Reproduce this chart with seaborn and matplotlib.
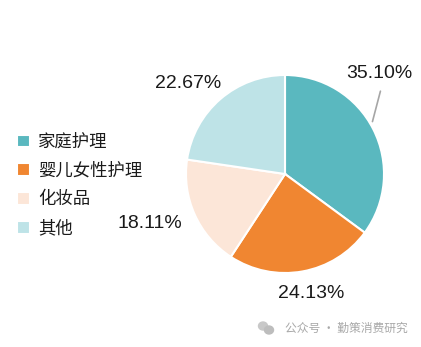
import numpy as np
import matplotlib.pyplot as plt
from matplotlib.patches import Ellipse
import seaborn as sns

# data
categories = ["家庭护理", "婴儿女性护理", "化妆品", "其他"]
shares = [35.10, 24.13, 18.11, 22.67]
colors = ["#5AB8BF", "#F08631", "#FCE6D8", "#BEE3E7"]

sns.set_theme(style="white")
plt.rcParams["font.family"] = ["Liberation Sans", "Noto Sans CJK SC", "DejaVu Sans"]

W, H = 421, 347
fig = plt.figure(figsize=(W / 100, H / 100), dpi=100)
ax = fig.add_axes([0, 0, 1, 1])

pal = sns.color_palette(colors)
wedges, _ = ax.pie(shares, colors=pal, startangle=90, counterclock=False,
                   radius=1.0, center=(0, 0),
                   wedgeprops=dict(edgecolor="white", linewidth=1.5))

# pie centre in pixels and radius in pixels (limits set after pie, which resets them)
cx, cy, rpx = 285, 174, 99
ax.set_xlim(-cx / rpx, (W - cx) / rpx)
ax.set_ylim(-(H - cy) / rpx, cy / rpx)
ax.set_aspect("equal")
ax.axis("off")

# label placement: (radius, angle shift in degrees) per slice
label_r = [1.39, 1.23, 1.45, 1.34]
label_shift = [20, 2, -4, 6]
for w, v, r, s in zip(wedges, shares, label_r, label_shift):
    mid = (w.theta1 + w.theta2) / 2
    ang = np.deg2rad(mid + s)
    tx, ty = r * np.cos(ang), r * np.sin(ang)
    txt = f"{v:.2f}%"
    if s > 10:
        m = np.deg2rad(mid + 3)
        ax.annotate("", xy=(1.01 * np.cos(m), 1.01 * np.sin(m)),
                    xytext=(tx + 0.02, ty - 0.15),
                    arrowprops=dict(arrowstyle="-", color="#A6A6A6", lw=1.2))
    ax.text(tx, ty, txt, ha="center", va="center", fontsize=14, color="#1a1a1a")

leg = fig.legend(wedges, categories, loc="upper left",
                 bbox_to_anchor=(10 / W, 1 - 126 / H), frameon=False,
                 prop=dict(family=["Noto Sans CJK SC", "DejaVu Sans"], size=12.5),
                 handlelength=0.75, handleheight=0.75, handletextpad=0.45,
                 labelspacing=0.62, borderaxespad=0)
for t in leg.get_texts():
    t.set_color("#1a1a1a")

# watermark
fig.patches.append(Ellipse((263 / W, 1 - 326 / H), 9 / W, 8 / H,
                           transform=fig.transFigure, color="#C8C8C8"))
fig.patches.append(Ellipse((269 / W, 1 - 330 / H), 9 / W, 8 / H,
                           transform=fig.transFigure, color="#BDBDBD"))
fig.text(285 / W, 1 - 328 / H, "公众号 · 勤策消费研究", ha="left", va="center",
         fontsize=8.5, color="#A8A8A8",
         family=["Noto Sans CJK SC", "DejaVu Sans"])

fig.savefig("out.png", dpi=100)
